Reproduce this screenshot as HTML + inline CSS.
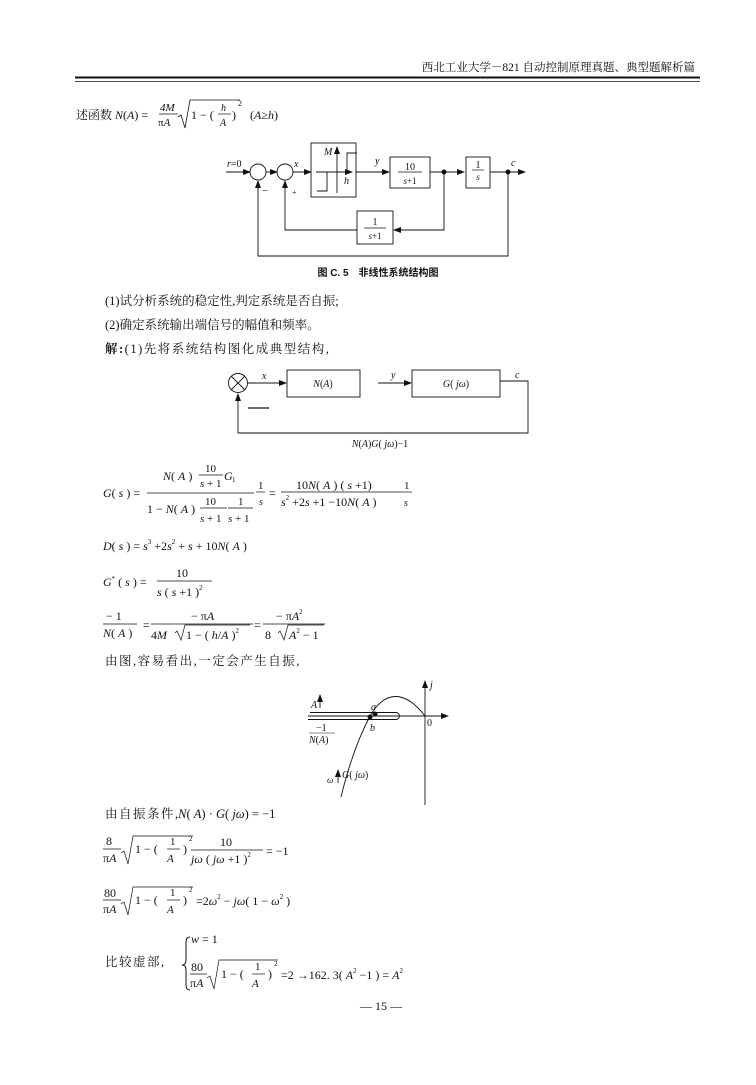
<!DOCTYPE html>
<html><head><meta charset="utf-8"><style>
html,body{margin:0;padding:0;background:#fff}
svg{display:block}
text{font-family:"Liberation Serif","Noto Serif CJK SC",serif;fill:#111}
.i{font-style:italic}
.ls{letter-spacing:1.5px}
</style></head><body>
<svg width="756" height="1085" viewBox="0 0 756 1085" xmlns="http://www.w3.org/2000/svg" stroke-linecap="butt">
<defs><marker id="ar" markerWidth="8" markerHeight="6" refX="7" refY="3" orient="auto" markerUnits="userSpaceOnUse"><path d="M0,0 L8,3 L0,6z" fill="#111"/></marker></defs>
<text x="695" y="71" font-size="11.5" text-anchor="end">西北工业大学－821 自动控制原理真题、典型题解析篇</text>
<line x1="75" y1="77.5" x2="700" y2="77.5" stroke="#111" stroke-width="2"/>
<line x1="75" y1="81.5" x2="700" y2="81.5" stroke="#111" stroke-width="0.8"/>
<text x="76" y="119" font-size="12">述函数 <tspan class="i">N</tspan>(<tspan class="i">A</tspan>) =</text>
<text x="160" y="111" font-size="11" class="i">4M</text>
<line x1="159" y1="114" x2="178" y2="114" stroke="#111" stroke-width="0.8"/>
<text x="158" y="126" font-size="11"><tspan>π</tspan><tspan class="i">A</tspan></text>
<polyline points="178,117 181,115 185,128 190,100 240,100" fill="none" stroke="#111" stroke-width="0.8"/>
<text x="191" y="119" font-size="12">1 − (</text>
<text x="221" y="111" font-size="10" class="i">h</text>
<line x1="218" y1="114" x2="231" y2="114" stroke="#111" stroke-width="0.7"/>
<text x="220" y="126" font-size="10" class="i">A</text>
<text x="232" y="119" font-size="12">)</text>
<text x="238" y="106" font-size="8">2</text>
<text x="250" y="119" font-size="12">(<tspan class="i">A</tspan>≥<tspan class="i">h</tspan>)</text>

<g stroke="#111" stroke-width="0.9" fill="none">
<line x1="226" y1="172" x2="250" y2="172" marker-end="url(#ar)"/>
<circle cx="258" cy="172" r="8"/>
<line x1="266" y1="172" x2="277" y2="172" marker-end="url(#ar)"/>
<circle cx="285" cy="172" r="8"/>
<line x1="293" y1="172" x2="311" y2="172" marker-end="url(#ar)"/>
<rect x="311" y="143" width="45" height="54"/>
<line x1="316" y1="172" x2="352" y2="172" marker-end="url(#ar)"/>
<line x1="337" y1="193" x2="337" y2="147" marker-end="url(#ar)"/>
<polyline points="317,191 327,191 327,172"/>
<polyline points="347,172 347,153 357,153"/>
<line x1="356" y1="172" x2="389" y2="172" marker-end="url(#ar)"/>
<rect x="390" y="157" width="40" height="31"/>
<line x1="430" y1="172" x2="464" y2="172" marker-end="url(#ar)"/>
<rect x="466" y="157" width="24" height="31"/>
<line x1="490" y1="172" x2="525" y2="172" marker-end="url(#ar)"/>
<polyline points="444,172 444,230 394,230" marker-end="url(#ar)"/>
<rect x="357" y="211" width="36" height="33"/>
<polyline points="357,230 285,230 285,181" marker-end="url(#ar)"/>
<polyline points="508,172 508,256 258,256 258,181" marker-end="url(#ar)"/>
</g>
<circle cx="444" cy="172" r="2.5" fill="#111"/>
<circle cx="508" cy="172" r="2.5" fill="#111"/>
<text x="227" y="167" font-size="10"><tspan class="i">r</tspan>=0</text>
<text x="294" y="167" font-size="10" class="i">x</text>
<text x="262" y="194" font-size="11">−</text>
<text x="292" y="195" font-size="8">+</text>
<text x="324" y="155" font-size="10" class="i">M</text>
<text x="344" y="184" font-size="10" class="i">h</text>
<text x="375" y="164" font-size="10" class="i">y</text>
<text x="410" y="170" font-size="10" text-anchor="middle">10</text>
<line x1="398" y1="172" x2="422" y2="172" stroke="#111" stroke-width="0.7"/>
<text x="410" y="184" font-size="9" text-anchor="middle"><tspan class="i">s</tspan>+1</text>
<text x="478" y="168" font-size="10" text-anchor="middle">1</text>
<line x1="472" y1="170" x2="484" y2="170" stroke="#111" stroke-width="0.7"/>
<text x="478" y="180" font-size="9" text-anchor="middle" class="i">s</text>
<text x="511" y="166" font-size="10" class="i">c</text>
<text x="375" y="225" font-size="10" text-anchor="middle">1</text>
<line x1="364" y1="228" x2="386" y2="228" stroke="#111" stroke-width="0.7"/>
<text x="375" y="239" font-size="9" text-anchor="middle"><tspan class="i">s</tspan>+1</text>
<text x="378" y="276" font-size="10" text-anchor="middle" font-weight="bold" style="font-family:'Liberation Sans','Noto Sans CJK SC',sans-serif">图 C. 5　非线性系统结构图</text>

<text x="105" y="305" font-size="12.5">(1)试分析系统的稳定性,判定系统是否自振;</text>
<text x="105" y="329" font-size="12.5">(2)确定系统输出端信号的幅值和频率。</text>
<text x="105" y="353" font-size="12.5" class="ls"><tspan font-weight="bold">解:</tspan>(1)先将系统结构图化成典型结构,</text>

<g stroke="#111" stroke-width="0.9" fill="none">
<circle cx="238" cy="383" r="9.5"/>
<line x1="231" y1="376" x2="245" y2="390"/><line x1="245" y1="376" x2="231" y2="390"/>
<line x1="248" y1="383" x2="286" y2="383" marker-end="url(#ar)"/>
<rect x="287" y="370" width="73" height="27"/>
<line x1="378" y1="383" x2="411" y2="383" marker-end="url(#ar)"/>
<rect x="412" y="370" width="88" height="27"/>
<polyline points="500,381 528,381 528,433 238,433 238,394" marker-end="url(#ar)"/>
<line x1="248" y1="408" x2="269" y2="408" stroke-width="1.2"/>
</g>
<text x="262" y="379" font-size="10" class="i">x</text>
<text x="323" y="387" font-size="10" text-anchor="middle"><tspan class="i">N</tspan>(<tspan class="i">A</tspan>)</text>
<text x="391" y="378" font-size="10" class="i">y</text>
<text x="456" y="387" font-size="10" text-anchor="middle"><tspan class="i">G</tspan>( <tspan class="i">jω</tspan>)</text>
<text x="515" y="378" font-size="10" class="i">c</text>
<text x="380" y="447" font-size="10" text-anchor="middle"><tspan class="i">N</tspan>(<tspan class="i">A</tspan>)<tspan class="i">G</tspan>( <tspan class="i">jω</tspan>)−1</text>

<text x="103" y="497" font-size="12"><tspan class="i">G</tspan>( <tspan class="i">s</tspan> ) =</text>
<text x="163" y="480" font-size="12"><tspan class="i">N</tspan>( <tspan class="i">A</tspan> )</text>
<text x="205" y="472" font-size="11">10</text>
<line x1="199" y1="475" x2="223" y2="475" stroke="#111" stroke-width="0.7"/>
<text x="200" y="487" font-size="11"><tspan class="i">s</tspan> + 1</text>
<text x="224" y="480" font-size="12" class="i">G</text><text x="232" y="482" font-size="7">1</text>
<line x1="147" y1="493" x2="254" y2="493" stroke="#111" stroke-width="0.8"/>
<text x="147" y="513" font-size="12">1 − <tspan class="i">N</tspan>( <tspan class="i">A</tspan> )</text>
<text x="205" y="505" font-size="11">10</text>
<line x1="200" y1="508" x2="227" y2="508" stroke="#111" stroke-width="0.7"/>
<text x="200" y="522" font-size="11"><tspan class="i">s</tspan> + 1</text>
<text x="238" y="505" font-size="11">1</text>
<line x1="228" y1="508" x2="253" y2="508" stroke="#111" stroke-width="0.7"/>
<text x="228" y="522" font-size="11"><tspan class="i">s</tspan> + 1</text>
<text x="258" y="489" font-size="11">1</text>
<line x1="256" y1="492" x2="265" y2="492" stroke="#111" stroke-width="0.7"/>
<text x="259" y="505" font-size="10" class="i">s</text>
<text x="269" y="497" font-size="12">=</text>
<text x="296" y="489" font-size="12">10<tspan class="i">N</tspan>( <tspan class="i">A</tspan> ) ( <tspan class="i">s</tspan> +1)</text>
<line x1="281" y1="492" x2="401" y2="492" stroke="#111" stroke-width="0.8"/>
<text x="281" y="506" font-size="12"><tspan class="i">s</tspan><tspan font-size="7" dy="-6">2</tspan><tspan dy="6"> +2<tspan class="i">s</tspan> +1 −10<tspan class="i">N</tspan>( <tspan class="i">A</tspan> )</tspan></text>
<text x="404" y="489" font-size="11">1</text>
<line x1="401" y1="492" x2="412" y2="492" stroke="#111" stroke-width="0.7"/>
<text x="404" y="506" font-size="10" class="i">s</text>

<text x="103" y="550" font-size="12"><tspan class="i">D</tspan>( <tspan class="i">s</tspan> ) = <tspan class="i">s</tspan><tspan font-size="7" dy="-6">3</tspan><tspan dy="6"> +2<tspan class="i">s</tspan></tspan><tspan font-size="7" dy="-6">2</tspan><tspan dy="6"> + <tspan class="i">s</tspan> + 10<tspan class="i">N</tspan>( <tspan class="i">A</tspan> )</tspan></text>

<text x="103" y="586" font-size="12"><tspan class="i">G</tspan><tspan font-size="7" dy="-5">*</tspan><tspan dy="5"> ( <tspan class="i">s</tspan> ) =</tspan></text>
<text x="176" y="577" font-size="12">10</text>
<line x1="157" y1="581" x2="212" y2="581" stroke="#111" stroke-width="0.8"/>
<text x="157" y="596" font-size="12"><tspan class="i">s</tspan> ( <tspan class="i">s</tspan> +1 )<tspan font-size="7" dy="-6">2</tspan></text>

<text x="106" y="620" font-size="12">− 1</text>
<line x1="103" y1="624" x2="137" y2="624" stroke="#111" stroke-width="0.8"/>
<text x="103" y="637" font-size="12"><tspan class="i">N</tspan>( <tspan class="i">A</tspan> )</text>
<text x="143" y="629" font-size="12">=</text>
<text x="191" y="620" font-size="12">− π<tspan class="i">A</tspan></text>
<line x1="151" y1="624" x2="253" y2="624" stroke="#111" stroke-width="0.8"/>
<text x="151" y="639" font-size="12">4<tspan class="i">M</tspan></text>
<polyline points="175,633 177,631 181,640 185,625 250,625" fill="none" stroke="#111" stroke-width="0.7"/>
<text x="186" y="639" font-size="12">1 − ( <tspan class="i">h</tspan>/<tspan class="i">A</tspan> )<tspan font-size="7" dy="-6">2</tspan></text>
<text x="254" y="629" font-size="12">=</text>
<text x="276" y="620" font-size="12">− π<tspan class="i">A</tspan><tspan font-size="7" dy="-6">2</tspan></text>
<line x1="263" y1="624" x2="325" y2="624" stroke="#111" stroke-width="0.8"/>
<text x="265" y="639" font-size="12">8</text>
<polyline points="278,633 280,631 284,640 288,625 324,625" fill="none" stroke="#111" stroke-width="0.7"/>
<text x="289" y="639" font-size="12"><tspan class="i">A</tspan><tspan font-size="7" dy="-6">2</tspan><tspan dy="6"> − 1</tspan></text>

<text x="105" y="665" font-size="12.5" class="ls">由图,容易看出,一定会产生自振,</text>

<g stroke="#111" stroke-width="0.9" fill="none">
<line x1="308" y1="716" x2="448" y2="716" marker-end="url(#ar)"/>
<line x1="425" y1="805" x2="425" y2="681" marker-end="url(#ar)"/>
<path d="M310,712.5 L396,712.5 A3.5,3.5 0 0 1 396,719.5 L310,719.5"/>
<line x1="330" y1="719.5" x2="308" y2="719.5"/>
<path d="M341,797 C350,760 360,735 370,716 C385,690 405,690 425,716"/>
<line x1="320" y1="708" x2="320" y2="695" marker-end="url(#ar)"/>
<line x1="338" y1="783" x2="338" y2="770" marker-end="url(#ar)"/>
</g>
<circle cx="375" cy="714" r="2.5" fill="#111"/>
<circle cx="370" cy="717" r="2.5" fill="#111"/>
<text x="311" y="708" font-size="10" class="i">A</text>
<text x="371" y="710" font-size="10" class="i">a</text>
<text x="370" y="731" font-size="10" class="i">b</text>
<text x="427" y="726" font-size="10">0</text>
<text x="430" y="688" font-size="10" class="i">j</text>
<text x="316" y="731" font-size="10">−1</text>
<line x1="309" y1="733" x2="335" y2="733" stroke="#111" stroke-width="0.6"/>
<text x="309" y="743" font-size="10"><tspan class="i">N</tspan>(<tspan class="i">A</tspan>)</text>
<text x="327" y="783" font-size="9" class="i">ω</text>
<text x="342" y="778" font-size="10"><tspan class="i">G</tspan>( <tspan class="i">jω</tspan>)</text>

<text x="105" y="818" font-size="12.5"><tspan class="ls">由自振条件</tspan>,<tspan class="i">N</tspan>( <tspan class="i">A</tspan>) · <tspan class="i">G</tspan>( <tspan class="i">jω</tspan>) = −1</text>

<text x="106" y="845" font-size="12">8</text>
<line x1="103" y1="849" x2="121" y2="849" stroke="#111" stroke-width="0.8"/>
<text x="103" y="862" font-size="12">π<tspan class="i">A</tspan></text>
<polyline points="121,853 124,851 128,864 133,836 193,836" fill="none" stroke="#111" stroke-width="0.7"/>
<text x="135" y="853" font-size="12">1 − (</text>
<text x="170" y="845" font-size="11">1</text>
<line x1="167" y1="849" x2="180" y2="849" stroke="#111" stroke-width="0.7"/>
<text x="167" y="862" font-size="11" class="i">A</text>
<text x="183" y="853" font-size="12">)</text>
<text x="189" y="841" font-size="7">2</text>
<text x="220" y="846" font-size="12">10</text>
<line x1="191" y1="850" x2="263" y2="850" stroke="#111" stroke-width="0.8"/>
<text x="191" y="863" font-size="12"><tspan class="i">jω</tspan> ( <tspan class="i">jω</tspan> +1 )<tspan font-size="7" dy="-6">2</tspan></text>
<text x="266" y="855" font-size="12">= −1</text>

<text x="104" y="897" font-size="12">80</text>
<line x1="103" y1="900" x2="121" y2="900" stroke="#111" stroke-width="0.8"/>
<text x="103" y="913" font-size="12">π<tspan class="i">A</tspan></text>
<polyline points="121,904 124,902 128,915 133,887 193,887" fill="none" stroke="#111" stroke-width="0.7"/>
<text x="135" y="904" font-size="12">1 − (</text>
<text x="170" y="896" font-size="11">1</text>
<line x1="167" y1="900" x2="180" y2="900" stroke="#111" stroke-width="0.7"/>
<text x="167" y="913" font-size="11" class="i">A</text>
<text x="183" y="904" font-size="12">)</text>
<text x="189" y="892" font-size="7">2</text>
<text x="196" y="905" font-size="12">=2<tspan class="i">ω</tspan><tspan font-size="7" dy="-6">2</tspan><tspan dy="6"> − <tspan class="i">jω</tspan>( 1 − <tspan class="i">ω</tspan></tspan><tspan font-size="7" dy="-6">2</tspan><tspan dy="6"> )</tspan></text>

<text x="105" y="966" font-size="12.5" class="ls">比较虚部,</text>
<path d="M190,937 Q186,937 186,942 L186,960 Q186,965 182,965 Q186,965 186,970 L186,985 Q186,990 190,990" fill="none" stroke="#111" stroke-width="1"/>
<text x="191" y="943" font-size="12"><tspan class="i">w</tspan> = 1</text>
<text x="191" y="971" font-size="12">80</text>
<line x1="190" y1="974" x2="207" y2="974" stroke="#111" stroke-width="0.8"/>
<text x="190" y="987" font-size="12">π<tspan class="i">A</tspan></text>
<polyline points="207,978 210,976 214,989 219,960 278,960" fill="none" stroke="#111" stroke-width="0.7"/>
<text x="221" y="978" font-size="12">1 − (</text>
<text x="255" y="970" font-size="11">1</text>
<line x1="252" y1="974" x2="265" y2="974" stroke="#111" stroke-width="0.7"/>
<text x="252" y="987" font-size="11" class="i">A</text>
<text x="268" y="978" font-size="12">)</text>
<text x="274" y="966" font-size="7">2</text>
<text x="281" y="979" font-size="12">=2 →162. 3( <tspan class="i">A</tspan><tspan font-size="7" dy="-6">2</tspan><tspan dy="6"> −1 ) = <tspan class="i">A</tspan></tspan><tspan font-size="7" dy="-6">2</tspan></text>

<text x="381" y="1010" font-size="12" text-anchor="middle">— 15 —</text>
</svg>
</body></html>
